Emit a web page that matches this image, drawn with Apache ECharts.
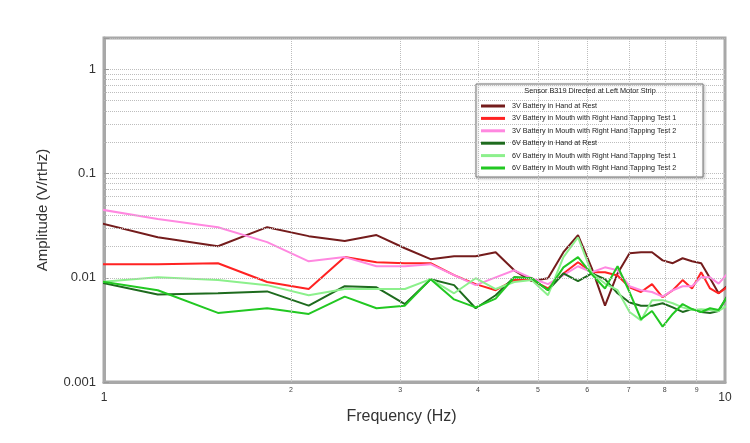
<!DOCTYPE html>
<html><head><meta charset="utf-8">
<script src="https://cdn.jsdelivr.net/npm/echarts@6/dist/echarts.min.js"></script>
<style>html,body{margin:0;padding:0;background:#fff}#c{width:750px;height:443px}</style>
</head><body><div id="c"></div>
<script>
// Frequencies (Hz) of the spectral bins
const freqs = [0.9155,1.2207,1.5259,1.8311,2.1362,2.4414,2.7466,3.0518,3.3569,3.6621,3.9673,4.2725,4.5776,4.8828,5.1880,5.4932,5.7983,6.1035,6.4087,6.7139,7.0190,7.3242,7.6294,7.9346,8.2397,8.5449,8.8501,9.1553,9.4604,9.7656,10.0708];
const names = [
  '3V Battery in Hand at Rest',
  '3V Battery in Mouth with Right Hand Tapping Test 1',
  '3V Battery in Mouth with Right Hand Tapping Test 2',
  '6V Battery in Hand at Rest',
  '6V Battery in Mouth with Right Hand Tapping Test 1',
  '6V Battery in Mouth with Right Hand Tapping Test 2'
];
const brown = [0.0374,0.0245,0.0201,0.0306,0.0251,0.0225,0.0257,0.0192,0.0151,0.0161,0.0161,0.0176,0.0118,0.0093,0.0099,0.0176,0.0257,0.0123,0.0054,0.0110,0.0172,0.0176,0.0176,0.0147,0.0138,0.0154,0.0144,0.0138,0.0099,0.0071,0.0083];
const red = [0.0135,0.0135,0.0138,0.0091,0.0078,0.0158,0.0141,0.0138,0.0138,0.0106,0.0087,0.0076,0.0095,0.0095,0.0079,0.0110,0.0141,0.0113,0.0113,0.0105,0.0081,0.0073,0.0087,0.0065,0.0076,0.0095,0.0079,0.0113,0.0079,0.0071,0.0081];
const pink = [0.0488,0.0366,0.0306,0.0220,0.0144,0.0158,0.0129,0.0129,0.0135,0.0106,0.0085,0.0101,0.0118,0.0099,0.0087,0.0106,0.0129,0.0113,0.0126,0.0118,0.0083,0.0076,0.0073,0.0066,0.0076,0.0083,0.0083,0.0101,0.0101,0.0088,0.0108];
const darkGreen = [0.0099,0.0069,0.0071,0.0074,0.0054,0.0083,0.0081,0.0056,0.0097,0.0085,0.0051,0.0068,0.0101,0.0099,0.0076,0.0110,0.0093,0.0110,0.0097,0.0071,0.0058,0.0054,0.0054,0.0057,0.0052,0.0047,0.0050,0.0047,0.0046,0.0048,0.0066];
const lightGreen = [0.0088,0.0101,0.0095,0.0085,0.0068,0.0078,0.0078,0.0078,0.0097,0.0071,0.0099,0.0078,0.0091,0.0095,0.0068,0.0158,0.0245,0.0110,0.0088,0.0076,0.0047,0.0039,0.0061,0.0061,0.0057,0.0052,0.0049,0.0050,0.0049,0.0048,0.0054];
const green = [0.0099,0.0076,0.0046,0.0051,0.0045,0.0066,0.0051,0.0054,0.0097,0.0062,0.0052,0.0063,0.0101,0.0099,0.0076,0.0126,0.0158,0.0108,0.0079,0.0129,0.0073,0.0040,0.0048,0.0034,0.0045,0.0056,0.0050,0.0047,0.0051,0.0049,0.0065];
const colors = ['#741c1c','#ff2222','#ff88e0','#1e6b1e','#8cf08c','#22c822'];
// grid-line positions and minor tick labels
const minorY = [0.002,0.003,0.004,0.005,0.006,0.007,0.008,0.009,0.02,0.03,0.04,0.05,0.06,0.07,0.08,0.09,0.2,0.3,0.4,0.5,0.6,0.7,0.8,0.9];
const minorX = [2,3,4,5,6,7,8,9];
const legendTitle = 'Sensor B319 Directed at Left Motor Strip';

const allSeries = [brown, red, pink, darkGreen, lightGreen, green];
const chart = echarts.init(document.getElementById('c'));
const FONT = 'Liberation Sans, Arial, sans-serif';

const gridMarks = minorY.map(v => ({yAxis: v}))
  .concat(minorX.map(v => ({xAxis: v, label: {show: true, position: 'start', formatter: String(v), fontSize: 7, color: '#444', distance: 5, fontFamily: FONT}})));

const series = [{
  type: 'line', name: '_grid', data: [], silent: true, z: 1,
  markLine: {
    silent: true, symbol: ['none','none'], animation: false,
    lineStyle: {type: 'dotted', color: '#bdbdbd', width: 1},
    label: {show: false},
    emphasis: {disabled: true},
    data: gridMarks
  }
}].concat(allSeries.map((arr, i) => ({
  type: 'line', name: names[i],
  data: freqs.map((f, j) => [f, arr[j]]),
  showSymbol: false, symbol: 'none', clip: true,
  lineStyle: {color: colors[i], width: 2},
  itemStyle: {color: colors[i]},
  z: 3
})));

chart.setOption({
  animation: false,
  backgroundColor: '#fff',
  grid: {left: 104, right: 25, top: 38, bottom: 61, show: true, borderColor: '#a8a8a8', borderWidth: 3, backgroundColor: 'transparent'},
  xAxis: {
    type: 'log', logBase: 10, min: 1, max: 10,
    name: 'Frequency (Hz)', nameLocation: 'middle', nameGap: 27,
    nameTextStyle: {fontSize: 16, color: '#333', fontFamily: FONT, padding: [0, 26, 0, 0]},
    axisLine: {show: true, lineStyle: {color: '#a8a8a8', width: 3}},
    axisTick: {show: false},
    axisLabel: {fontSize: 12, color: '#333', margin: 10, fontFamily: FONT},
    splitLine: {show: false}
  },
  yAxis: {
    type: 'log', logBase: 10, min: 0.001, max: 2,
    name: 'Amplitude (V/rtHz)', nameLocation: 'middle', nameGap: 54,
    nameTextStyle: {fontSize: 15, color: '#333', fontFamily: FONT},
    axisLine: {show: true, lineStyle: {color: '#a8a8a8', width: 3}},
    axisTick: {show: true, inside: true, length: 5, lineStyle: {color: '#999'}},
    axisLabel: {fontSize: 13, color: '#333', margin: 8, fontFamily: FONT,
      formatter: v => {
        const l = Math.log10(v);
        if (Math.abs(l - Math.round(l)) > 1e-6) return '';
        return String(+v.toPrecision(1));
      }},
    splitLine: {show: true, lineStyle: {type: 'dotted', color: '#bdbdbd'}}
  },
  legend: {
    data: names, orient: 'vertical', left: 476, top: 95,
    icon: 'rect', itemWidth: 24, itemHeight: 3, itemGap: 0.4,
    textStyle: {fontSize: 7.2, color: '#222', fontFamily: FONT, lineHeight: 12, padding: [0, 0, 0, 2]},
    selectedMode: false, z: 6
  },
  graphic: [
    {type: 'rect', shape: {x: 476, y: 84, width: 227, height: 93}, z: 5,
     style: {fill: '#fff', stroke: '#777', lineWidth: 1, shadowBlur: 3, shadowColor: 'rgba(0,0,0,0.25)', shadowOffsetX: 1, shadowOffsetY: 1}},
    {type: 'text', x: 590, y: 91, z: 6,
     style: {text: legendTitle, fontSize: 7.3, fill: '#222', align: 'center', verticalAlign: 'middle', fontFamily: FONT}}
  ],
  series: series
});
</script>
</body></html>
